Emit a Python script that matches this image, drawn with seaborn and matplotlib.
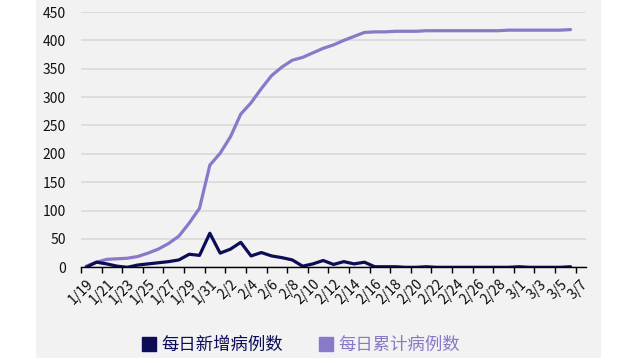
import matplotlib
matplotlib.use("Agg")
import matplotlib.pyplot as plt
import seaborn as sns
import pandas as pd
from matplotlib.patches import Rectangle
from matplotlib.lines import Line2D

# ---- data ----
dates = ["1/19", "1/20", "1/21", "1/22", "1/23", "1/24", "1/25", "1/26", "1/27", "1/28",
         "1/29", "1/30", "1/31", "2/1", "2/2", "2/3", "2/4", "2/5", "2/6", "2/7",
         "2/8", "2/9", "2/10", "2/11", "2/12", "2/13", "2/14", "2/15", "2/16", "2/17",
         "2/18", "2/19", "2/20", "2/21", "2/22", "2/23", "2/24", "2/25", "2/26", "2/27",
         "2/28", "2/29", "3/1", "3/2", "3/3", "3/4", "3/5", "3/6", "3/7"]
daily_new = [0, 9, 6, 2, 0, 4, 6, 8, 10, 13,
             23, 21, 60, 25, 32, 44, 20, 26, 20, 17,
             13, 2, 6, 12, 5, 10, 6, 9, 1, 1,
             1, 0, 0, 1, 0, 0, 0, 0, 0, 0,
             0, 0, 1, 0, 0, 0, 0, 1]
cumulative = [2, 9, 14, 15, 16, 19, 25, 32, 42, 55,
              78, 104, 180, 201, 230, 270, 290, 315, 338, 353,
              365, 370, 378, 386, 392, 400, 407, 414, 415, 415,
              416, 416, 416, 417, 417, 417, 417, 417, 417, 417,
              417, 418, 418, 418, 418, 418, 418, 419]
series_names = ["每日新增病例数", "每日累计病例数"]
colors = ["#0c0c57", "#8a78c8"]
y_ticks = [0, 50, 100, 150, 200, 250, 300, 350, 400, 450]

sns.set_theme(style="white")
plt.rcParams["font.family"] = ["Noto Sans CJK SC", "DejaVu Sans"]

n = len(daily_new)
df = pd.DataFrame({
    "pos": [i + 0.5 for i in range(n)] * 2,
    "value": daily_new + cumulative,
    "series": [series_names[0]] * n + [series_names[1]] * n,
})

fig = plt.figure(figsize=(6.4, 3.58), dpi=100)
fig.patch.set_facecolor("white")
fig.patches.append(Rectangle((36 / 640, 0), 565 / 640, 1, transform=fig.transFigure,
                             facecolor="#f2f2f2", edgecolor="none", zorder=-10))

ax = fig.add_axes([81 / 640, (358 - 267.3) / 358, 505 / 640, 255.3 / 358])
ax.set_facecolor("none")

sns.lineplot(data=df, x="pos", y="value", hue="series", hue_order=series_names,
             palette=colors, linewidth=2.3, ax=ax, legend=False, sort=False,
             estimator=None)
for ln in ax.lines:
    ln.set_solid_joinstyle("round")
    ln.set_solid_capstyle("round")
ax.lines[0].set_zorder(4)
ax.lines[1].set_zorder(3)

ax.set_xlim(0, len(dates))
ax.set_ylim(0, 450)
ax.set_yticks(y_ticks)
ax.set_yticklabels([str(v) for v in y_ticks], fontsize=10, color="#111111",
                   fontweight="medium")
ax.tick_params(axis="y", length=0, pad=11)

label_pos = [i + 0.5 for i in range(0, len(dates), 2)]
ax.set_xticks(label_pos)
ax.set_xticklabels(dates[::2], rotation=45, ha="right", va="top",
                   rotation_mode="anchor", fontsize=10, color="#0a0a0a",
                   fontweight="medium")
ax.tick_params(axis="x", which="major", length=0, pad=7)
ax.set_xticks(list(range(0, len(dates), 2)), minor=True)
ax.tick_params(axis="x", which="minor", length=4.5, width=1, color="black",
               direction="out", bottom=True)

ax.yaxis.grid(True, color="#d9d9d9", linewidth=1.2)
ax.xaxis.grid(False)
for s in ["top", "left", "right"]:
    ax.spines[s].set_visible(False)
ax.spines["bottom"].set_color("black")
ax.spines["bottom"].set_linewidth(1)
ax.spines["bottom"].set_zorder(5)
ax.set_xlabel("")
ax.set_ylabel("")

handles = [Line2D([], [], marker="s", linestyle="none", markersize=10.5,
                  markerfacecolor=c, markeredgecolor=c) for c in colors]
leg = fig.legend(handles, series_names, loc="center",
                 bbox_to_anchor=(300 / 640, (358 - 345) / 358), ncol=2,
                 frameon=False, fontsize=12.5, handletextpad=0.2,
                 columnspacing=2.0, handlelength=1.0, labelcolor=colors)

fig.savefig("out.png", dpi=100)
